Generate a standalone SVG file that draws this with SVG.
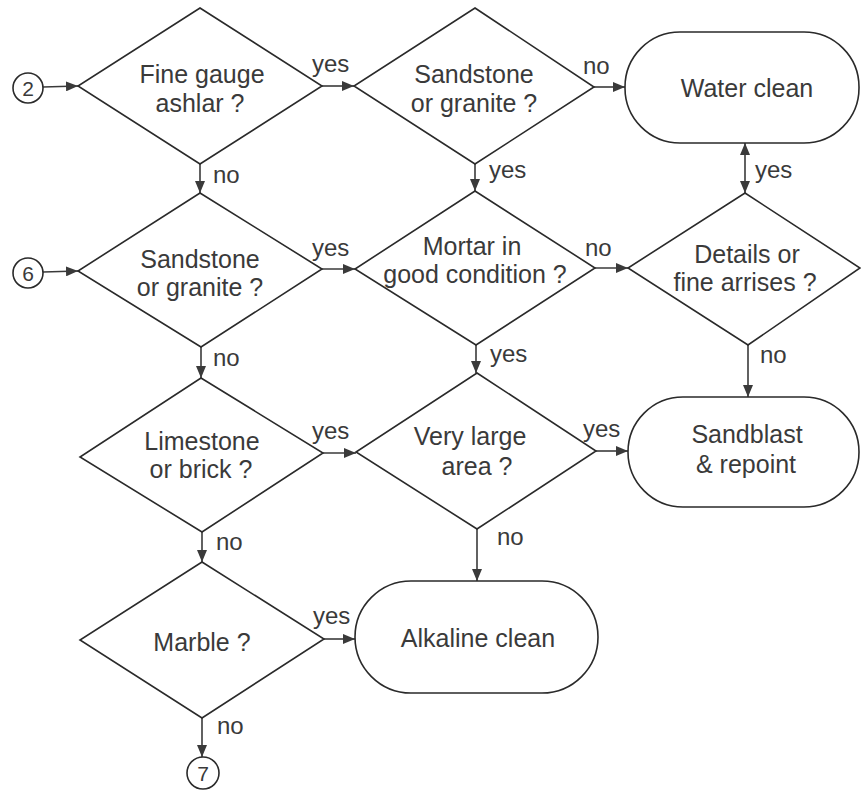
<svg xmlns="http://www.w3.org/2000/svg" width="861" height="791" viewBox="0 0 861 791">
  <style>
    .shape { fill: #ffffff; stroke: #2a2a2a; stroke-width: 1.6; }
    .txt { font-family: "Liberation Sans", Arial, sans-serif; font-size: 25px; fill: #3a3a3a; text-anchor: middle; }
    .lbl { font-family: "Liberation Sans", Arial, sans-serif; font-size: 24px; fill: #3a3a3a; }
    .num { font-family: "Liberation Sans", Arial, sans-serif; font-size: 21px; fill: #3a3a3a; text-anchor: middle; }
    .edge { fill: none; stroke: #3a3a3a; stroke-width: 1.6; }
  </style>
  <defs>
    <marker id="arrow" viewBox="0 0 12 10" refX="12" refY="5" markerWidth="12" markerHeight="10" markerUnits="userSpaceOnUse" orient="auto-start-reverse">
      <path d="M0,0 L12,5 L0,10 z" fill="#3a3a3a"/>
    </marker>
  </defs>
  <rect width="861" height="791" fill="#ffffff"/>

  <!-- connectors -->
  <g id="connectors">
    <line class="edge" x1="43" y1="87" x2="78" y2="86" marker-end="url(#arrow)"/>
    <line class="edge" x1="322" y1="86" x2="354" y2="86" marker-end="url(#arrow)"/>
    <line class="edge" x1="594" y1="87" x2="625" y2="87" marker-end="url(#arrow)"/>
    <line class="edge" x1="200" y1="164" x2="200" y2="193" marker-end="url(#arrow)"/>
    <line class="edge" x1="475" y1="164" x2="475" y2="191" marker-end="url(#arrow)"/>
    <line class="edge" x1="745" y1="143" x2="745" y2="193" marker-start="url(#arrow)" marker-end="url(#arrow)"/>
    <line class="edge" x1="43" y1="272" x2="78" y2="271" marker-end="url(#arrow)"/>
    <line class="edge" x1="322" y1="269" x2="355" y2="269" marker-end="url(#arrow)"/>
    <line class="edge" x1="595" y1="268" x2="628" y2="268" marker-end="url(#arrow)"/>
    <line class="edge" x1="201" y1="347" x2="201" y2="378" marker-end="url(#arrow)"/>
    <line class="edge" x1="476" y1="345" x2="476" y2="373" marker-end="url(#arrow)"/>
    <line class="edge" x1="748" y1="345" x2="748" y2="397" marker-end="url(#arrow)"/>
    <line class="edge" x1="323" y1="453" x2="356" y2="453" marker-end="url(#arrow)"/>
    <line class="edge" x1="596" y1="451" x2="628" y2="451" marker-end="url(#arrow)"/>
    <line class="edge" x1="202" y1="532" x2="202" y2="562" marker-end="url(#arrow)"/>
    <line class="edge" x1="477" y1="529" x2="477" y2="581" marker-end="url(#arrow)"/>
    <line class="edge" x1="324" y1="639" x2="355" y2="639" marker-end="url(#arrow)"/>
    <line class="edge" x1="202" y1="718" x2="202" y2="757" marker-end="url(#arrow)"/>
  </g>

  <!-- connector labels -->
  <g id="edge-labels" class="lbl">
    <text x="312" y="72">yes</text>
    <text x="213" y="183">no</text>
    <text x="583" y="74">no</text>
    <text x="489" y="178">yes</text>
    <text x="755" y="178">yes</text>
    <text x="312" y="256">yes</text>
    <text x="213" y="366">no</text>
    <text x="585" y="256">no</text>
    <text x="490" y="362">yes</text>
    <text x="760" y="363">no</text>
    <text x="312" y="439">yes</text>
    <text x="583" y="437">yes</text>
    <text x="216" y="550">no</text>
    <text x="497" y="545">no</text>
    <text x="313" y="624">yes</text>
    <text x="217" y="734">no</text>
  </g>

  <!-- connector points -->
  <g id="point-2">
    <circle class="shape" cx="28" cy="88" r="15"/>
    <text class="num" x="28" y="95.5">2</text>
  </g>
  <g id="point-6">
    <circle class="shape" cx="28" cy="273" r="15"/>
    <text class="num" x="28" y="280.5">6</text>
  </g>
  <g id="point-7">
    <circle class="shape" cx="203" cy="773" r="16"/>
    <text class="num" x="203" y="780.5">7</text>
  </g>

  <!-- decisions -->
  <g id="fine-gauge">
    <polygon class="shape" points="200,8 322,86 200,164 78,86"/>
    <text class="txt" x="202" y="83">Fine gauge</text>
    <text class="txt" x="200" y="112">ashlar ?</text>
  </g>
  <g id="sandstone-1">
    <polygon class="shape" points="475,8 594,87 475,164 354,86"/>
    <text class="txt" x="474" y="83">Sandstone</text>
    <text class="txt" x="474" y="112">or granite ?</text>
  </g>
  <g id="sandstone-2">
    <polygon class="shape" points="200,193 322,269 201,347 78,271"/>
    <text class="txt" x="200" y="268">Sandstone</text>
    <text class="txt" x="200" y="296">or granite ?</text>
  </g>
  <g id="mortar">
    <polygon class="shape" points="475,191 595,268 476,345 355,269"/>
    <text class="txt" x="472" y="255">Mortar in</text>
    <text class="txt" x="475" y="283">good condition ?</text>
  </g>
  <g id="details">
    <polygon class="shape" points="745,193 860,268 748,345 628,268"/>
    <text class="txt" x="747" y="263">Details or</text>
    <text class="txt" x="745" y="291">fine arrises ?</text>
  </g>
  <g id="limestone">
    <polygon class="shape" points="201,378 323,453 202,532 80,457"/>
    <text class="txt" x="202" y="450">Limestone</text>
    <text class="txt" x="201" y="478">or brick ?</text>
  </g>
  <g id="very-large">
    <polygon class="shape" points="477,373 596,451 477,529 356,452"/>
    <text class="txt" x="470" y="445">Very large</text>
    <text class="txt" x="477" y="475">area ?</text>
  </g>
  <g id="marble">
    <polygon class="shape" points="202,562 324,639 202,718 80,640"/>
    <text class="txt" x="202" y="651">Marble ?</text>
  </g>

  <!-- actions -->
  <g id="water-clean">
    <rect class="shape" x="625" y="32" width="234" height="111" rx="55" ry="55"/>
    <text class="txt" x="747" y="97">Water clean</text>
  </g>
  <g id="sandblast">
    <rect class="shape" x="628" y="397" width="231" height="110" rx="55" ry="55"/>
    <text class="txt" x="747" y="443">Sandblast</text>
    <text class="txt" x="746" y="473">&amp; repoint</text>
  </g>
  <g id="alkaline-clean">
    <rect class="shape" x="355" y="581" width="243" height="112" rx="56" ry="56"/>
    <text class="txt" x="478" y="647">Alkaline clean</text>
  </g>
</svg>
